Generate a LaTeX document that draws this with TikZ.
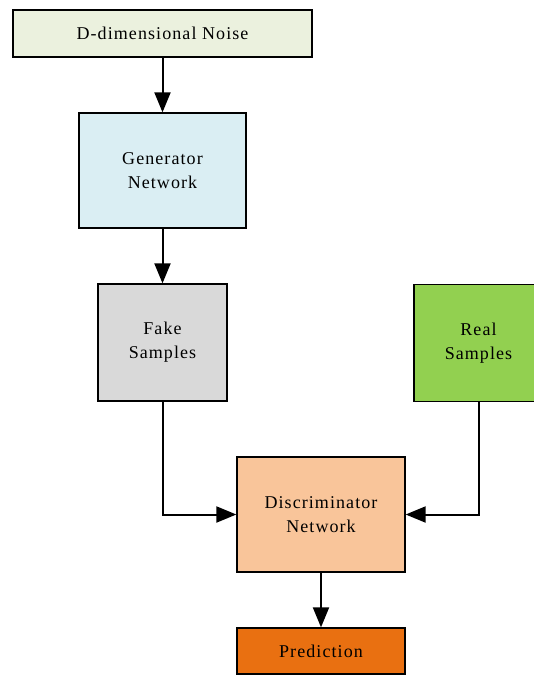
\documentclass[tikz,border=0pt]{standalone}
\usepackage{fontspec}
\setmainfont{Liberation Serif}[LetterSpace=6]
\usepackage{xcolor}
\definecolor{noisec}{HTML}{EBF1DE}
\definecolor{genc}{HTML}{DAEEF3}
\definecolor{fakec}{HTML}{D9D9D9}
\definecolor{realc}{HTML}{92D050}
\definecolor{discc}{HTML}{F9C59A}
\definecolor{predc}{HTML}{E97011}
\usepackage{tikz}
\usetikzlibrary{arrows.meta}

\begin{document}
\begin{tikzpicture}[x=1pt, y=-1pt,
  blk/.style={draw, line width=1.3pt, align=center, inner sep=0pt, font=\fontsize{18}{24}\selectfont},
  arr/.style={line width=2pt, -{Triangle[length=20pt, width=16pt]}}]
\useasboundingbox (0,0) rectangle (534,675);
\node[blk, fill=noisec, minimum width=299pt, minimum height=47pt] (noise) at (162.5,33.5) {D-dimensional Noise};
\node[blk, fill=genc, minimum width=167pt, minimum height=115pt] (gen) at (162.5,170.5) {Generator\\Network};
\node[blk, fill=fakec, minimum width=129pt, minimum height=117pt] (fake) at (162.5,342.5) {Fake\\Samples};
\node[blk, fill=realc, minimum width=129pt, minimum height=117pt] (real) at (478.5,343) {Real\\Samples};
\node[blk, fill=discc, minimum width=168pt, minimum height=115pt] (disc) at (321,514.5) {Discriminator\\Network};
\node[blk, fill=predc, minimum width=168pt, minimum height=46pt] (pred) at (321,651) {Prediction};
\foreach \a/\b in {noise/gen, gen/fake, disc/pred}{
\draw[arr] (\a) -- (\b);
}
\draw[arr] (fake.south) |- (disc.west);
\draw[arr] (real.south) |- (disc.east);
\end{tikzpicture}
\end{document}
